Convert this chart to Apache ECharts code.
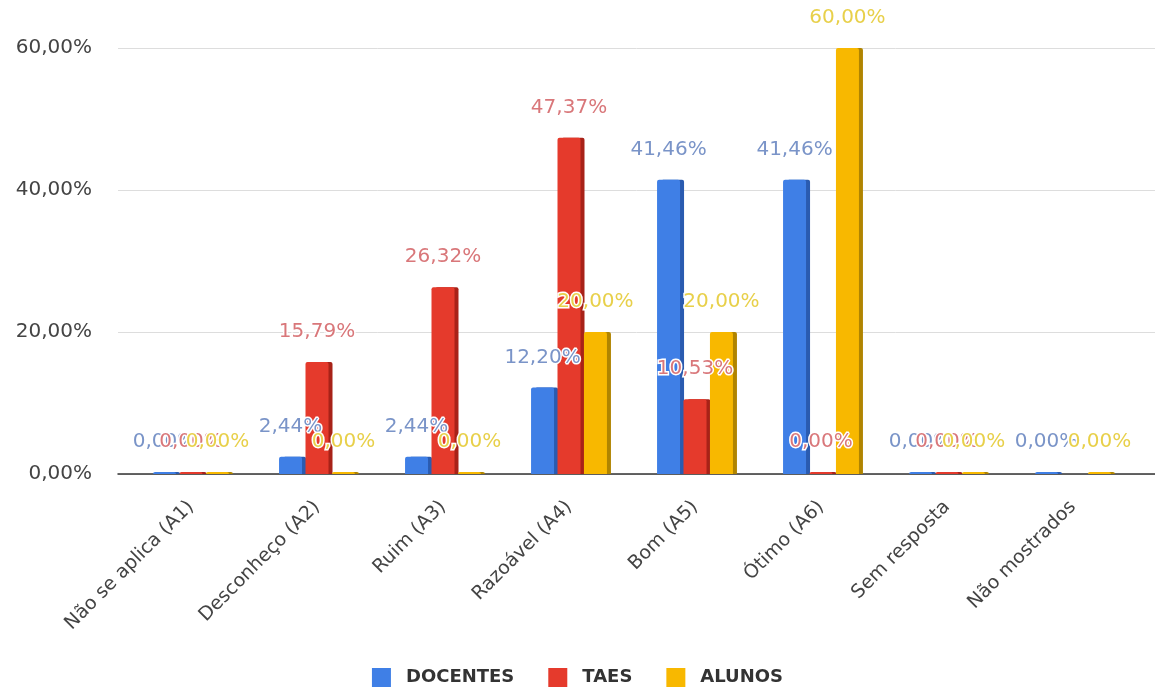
<!DOCTYPE html>
<html><head><meta charset="utf-8">
<script src="https://cdn.jsdelivr.net/npm/echarts@6/dist/echarts.min.js"></script>
<style>html,body{margin:0;padding:0;background:#fff}#c{width:1155px;height:689px}</style>
</head><body><div id="c"></div>
<script>
const categories = ['Não se aplica (A1)','Desconheço (A2)','Ruim (A3)','Razoável (A4)','Bom (A5)','Ótimo (A6)','Sem resposta','Não mostrados'];
const docentes = [0, 2.44, 2.44, 12.20, 41.46, 41.46, 0, 0];
const taes = [0, 15.79, 26.32, 47.37, 10.53, 0, 0, null];
const alunos = [0, 0, 0, 20, 20, 60, 0, 0];
const yTicks = {min: 0, max: 60, interval: 20};

const FONT = '"DejaVu Sans", sans-serif';
const fmt = v => v.toFixed(2).replace('.', ',') + '%';
function mk(name, data, color, side, labelColor) {
  return {
    name, type: 'bar', data, barWidth: 23, barGap: '15%', barMinHeight: 2,
    xAxisIndex: 0, yAxisIndex: 0,
    itemStyle: {color, shadowColor: side, shadowOffsetX: 4, shadowOffsetY: 0, shadowBlur: 0, borderRadius: [2,2,0,0]},
    label: {show: true, position: 'top', distance: 20, formatter: p => fmt(p.value),
      color: labelColor, fontSize: 20, fontFamily: FONT,
      textBorderColor: '#fff', textBorderWidth: 3}
  };
}
const chart = echarts.init(document.getElementById('c'));
const gTop = 48, gBottom = 215;
chart.setOption({
  animation: false,
  grid: [
    {left: 128, right: 19, top: gTop, bottom: gBottom},
    {left: 118, right: 0, top: gTop, bottom: gBottom}
  ],
  legend: {top: 663, left: 'center', itemWidth: 19, itemHeight: 19, itemGap: 34, icon: 'rect',
    textStyle: {fontSize: 18, fontWeight: 'bold', color: '#333', fontFamily: FONT, padding: [0, 0, 0, 10]}},
  xAxis: [
    {type: 'category', data: categories, gridIndex: 0,
      axisLine: {show: false}, axisTick: {show: false},
      axisLabel: {rotate: 45, fontSize: 19, color: '#444', margin: 30, interval: 0, fontFamily: FONT}},
    {type: 'value', gridIndex: 1, min: 0, max: 1, show: true,
      axisLine: {show: true, lineStyle: {color: '#333', width: 1.5}}, axisTick: {show: false},
      axisLabel: {show: false}, splitLine: {show: false}}
  ],
  yAxis: [
    {type: 'value', gridIndex: 0, min: yTicks.min, max: yTicks.max, interval: yTicks.interval,
      axisLabel: {show: false}, splitLine: {show: false}, axisLine: {show: false}, axisTick: {show: false}},
    {type: 'value', gridIndex: 1, min: yTicks.min, max: yTicks.max, interval: yTicks.interval,
      axisLabel: {formatter: v => fmt(v), fontSize: 20, color: '#444', margin: 26, fontFamily: FONT},
      splitLine: {lineStyle: {color: '#ddd'}}, axisLine: {show: false}, axisTick: {show: false}, z: 0}
  ],
  series: [
    mk('DOCENTES', docentes, '#3f7fe6', '#2a5bb0', '#7a94c8'),
    mk('TAES', taes, '#e53a2c', '#a82218', '#d9777a'),
    mk('ALUNOS', alunos, '#f8b800', '#b08400', '#e8d04a')
  ]
});
</script></body></html>
